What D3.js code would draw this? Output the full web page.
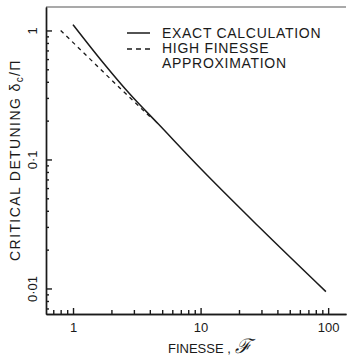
<!DOCTYPE html>
<html>
<head>
<meta charset="UTF-8">
<script src="https://cdn.jsdelivr.net/npm/d3@7"></script>
<style>
  body { margin: 0; background: #fff; }
  svg { display: block; font-family: 'Liberation Sans', Arial, sans-serif; }
  .axis path, .axis line { stroke: #1a1a1a; stroke-width: 1.4px; }
  .axis text { font-size: 13px; fill: #1a1a1a; font-family: 'Liberation Sans', Arial, sans-serif; }
</style>
</head>
<body>
<svg id="chart" width="348" height="361"></svg>
<script>
// values
const exactF = [1, 1.73, 2.8, 4.67, 10, 28.9, 96];
const exactV = [1.11, 0.56, 0.32, 0.188, 0.085, 0.0298, 0.00945];
const approxF = [0.8, 2.34, 4.2];
const approxV = [1.0, 0.356, 0.205];

const xMajor = [1, 10, 100];
const xMinor = [0.7, 0.8, 0.9, 2, 3, 4, 5, 6, 7, 8, 9, 20, 30, 40, 50, 60, 70, 80, 90];
const yMajor = [1, 0.1, 0.01];
const yMajorLabels = ["1", "0·1", "0·01"];
const yMinor = [0.9, 0.8, 0.7, 0.6, 0.5, 0.4, 0.3, 0.2,
                0.09, 0.08, 0.07, 0.06, 0.05, 0.04, 0.03, 0.02,
                0.009, 0.008, 0.007];

const legendNames = ["EXACT CALCULATION", "HIGH FINESSE", "APPROXIMATION"];

const svg = d3.select("#chart");
const x = d3.scaleLog().domain([0.614, 138]).range([46, 346]);
const y = d3.scaleLog().domain([1.52, 0.00634]).range([7, 314]);

const ink = "#1a1a1a";

// top frame
svg.append("line")
  .attr("x1", x.range()[0]).attr("x2", x.range()[1])
  .attr("y1", y.range()[0]).attr("y2", y.range()[0])
  .attr("stroke", "#555").attr("stroke-width", 1.2);

// x axis
svg.append("g").attr("class", "axis")
  .attr("transform", `translate(0,${y.range()[1]})`)
  .call(d3.axisBottom(x).tickValues(xMinor).tickSize(-4).tickSizeOuter(0).tickFormat(""));
svg.append("g").attr("class", "axis")
  .attr("transform", `translate(0,${y.range()[1]})`)
  .call(d3.axisBottom(x).tickValues(xMajor).tickSize(-6).tickSizeOuter(0)
    .tickPadding(9).tickFormat(d3.format("d")));

// y axis
svg.append("g").attr("class", "axis")
  .attr("transform", `translate(${x.range()[0]},0)`)
  .call(d3.axisLeft(y).tickValues(yMinor).tickSize(-3).tickSizeOuter(0).tickFormat(""));
const yAx = svg.append("g").attr("class", "axis")
  .attr("transform", `translate(${x.range()[0]},0)`)
  .call(d3.axisLeft(y).tickValues(yMajor).tickSize(-6).tickSizeOuter(0)
    .tickFormat((d, i) => yMajorLabels[i]));
yAx.selectAll("text")
  .attr("x", null).attr("dy", null)
  .attr("text-anchor", "middle")
  .attr("transform", "translate(-9,0) rotate(-90)");

// curves
const line = d3.line().x(d => x(d[0])).y(d => y(d[1]));
svg.append("path")
  .datum(exactF.map((f, i) => [f, exactV[i]]))
  .attr("d", line.curve(d3.curveMonotoneX)).attr("fill", "none")
  .attr("stroke", ink).attr("stroke-width", 1.5);
svg.append("path")
  .datum(approxF.map((f, i) => [f, approxV[i]]))
  .attr("d", line.curve(d3.curveLinear)).attr("fill", "none")
  .attr("stroke", ink).attr("stroke-width", 1.3)
  .attr("stroke-dasharray", "4,4");

// legend
svg.append("line").attr("x1", 127).attr("x2", 150).attr("y1", 33).attr("y2", 33)
  .attr("stroke", ink).attr("stroke-width", 1.5);
svg.append("line").attr("x1", 127).attr("x2", 152).attr("y1", 49).attr("y2", 49)
  .attr("stroke", ink).attr("stroke-width", 1.3).attr("stroke-dasharray", "5,4");
svg.selectAll(".leg").data(legendNames).enter().append("text")
  .attr("x", 162).attr("y", (d, i) => 38 + i * 15)
  .attr("font-size", 14).attr("letter-spacing", 0.7).attr("fill", ink)
  .text(d => d);

// axis titles
const xt = svg.append("text").attr("x", 168).attr("y", 352.5)
  .attr("font-size", 13).attr("fill", ink);
xt.append("tspan").text("FINESSE ,");
xt.append("tspan").attr("dx", 4).attr("font-size", 20).attr("font-style", "italic")
  .attr("font-family", "'DejaVu Serif', serif").text("ℱ");

const yt = svg.append("text")
  .attr("transform", "translate(20,160) rotate(-90)")
  .attr("text-anchor", "middle").attr("font-size", 14)
  .attr("letter-spacing", 1.4).attr("fill", ink);
yt.append("tspan").text("CRITICAL DETUNING  δ");
yt.append("tspan").attr("font-size", 10).attr("dy", 3).text("c");
yt.append("tspan").attr("dy", -3).text("/Π");
</script>
</body>
</html>
